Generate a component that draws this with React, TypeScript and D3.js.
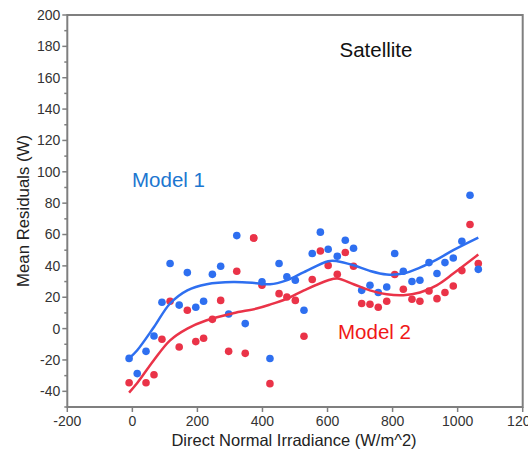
import React from "react";
import * as d3 from "d3";

const xBins = [-10, 15, 42, 66.5, 91, 116, 144, 169, 195, 219, 246, 271.5, 296, 321, 347, 373, 398.5, 423, 451, 475, 501, 527.6, 553, 578, 602, 630, 654.6, 680, 705, 730.5, 756, 782, 806.5, 833, 859.6, 884, 912, 936.5, 961, 986.6, 1013, 1038, 1063.5];
const model1 = [-19, -28.7, -14.5, -4.7, 16.8, 41.5, 15, 35.7, 13.6, 17.4, 34.6, 39.8, 9.3, 59.3, 3.2, 57.5, 29.8, -19.1, 41.5, 33, 30.8, 11.7, 47.9, 61.5, 50.6, 46.1, 56.3, 51.2, 24.4, 27.6, 23, 26.5, 47.9, 36.6, 30, 30.8, 42.1, 35.1, 42.1, 45, 55.7, 85, 37.8];
const model2 = [-34.5, -34.5, -34.5, -29.4, -6.8, 17.4, -11.7, 11.7, -8.3, -6.2, 5.9, 18, -14.5, 36.6, -15.8, 57.8, 27.6, -35.1, 22.3, 20.2, 18, -4.9, 31.3, 49.5, 40.2, 34.6, 48.5, 39.8, 16, 15.5, 13.6, 17.4, 34.5, 25.1, 18.7, 17.4, 24, 19.1, 23, 27.2, 37, 66.4, 41.5];
const fitX = [-10, 15, 66.5, 116, 169, 228.5, 310, 382, 423, 474, 527.6, 602, 630, 680, 730, 782, 833, 884, 935.5, 986.6, 1063.5];
const fit1 = [-19, -13.8, 1, 16, 24.4, 28.3, 29.7, 29, 28.3, 30.8, 36, 43, 43, 40.4, 36.8, 34.5, 35.1, 38.9, 44, 50, 58];
const fit2 = [-40.8, -34.7, -20, -7.5, 0, 5.3, 9.8, 12.8, 15.3, 19, 24.4, 30.8, 31.9, 28.3, 24.4, 21.9, 21.3, 23, 27.6, 35.1, 47.2];
const xTicks = [-200, 0, 200, 400, 600, 800, 1000, 1200];
const yTicks = [-40, -20, 0, 20, 40, 60, 80, 100, 120, 140, 160, 180, 200];

const W = 528, H = 455;
const L = 67.3, R = 522.7, T = 15, B = 407;

export default function App() {
  const x = d3.scaleLinear().domain([-200, 1200]).range([L, R]);
  const y = d3.scaleLinear().domain([-50, 200]).range([B, T]);
  const line = d3.line<[number, number]>().x(d => x(d[0])).y(d => y(d[1])).curve(d3.curveCatmullRom.alpha(0.5));
  const minorY = d3.range(-50, 201, 10).filter(v => v % 20 !== 0);
  const font = "Liberation Sans, Arial, sans-serif";
  const axisCol = "#7f7f7f";
  const blue = "#2e6ff0";
  const red = "#ea3348";
  const redIdx = model2.map((v, i) => i).filter(i => i !== 1);
  return (
    <svg width={W} height={H} style={{ position: "absolute", left: 0, top: 0 }} fontFamily={font}>
      <rect x={0} y={0} width={W} height={H} fill="#fff" />
      <rect x={L} y={T} width={R - L} height={B - T} fill="none" stroke={axisCol} strokeWidth={2} />
      {yTicks.map(t => (
        <g key={"y" + t}>
          <line x1={L - 5} x2={L} y1={y(t)} y2={y(t)} stroke={axisCol} strokeWidth={1.5} />
          <text x={L - 7} y={y(t)} dy="0.35em" textAnchor="end" fontSize={14} fill="#333">{t}</text>
        </g>
      ))}
      {minorY.map(t => (
        <line key={"m" + t} x1={L - 3} x2={L} y1={y(t)} y2={y(t)} stroke={axisCol} strokeWidth={1.5} />
      ))}
      {xTicks.map(t => (
        <g key={"x" + t}>
          <line x1={x(t)} x2={x(t)} y1={B} y2={B + 5} stroke={axisCol} strokeWidth={1.5} />
          <text x={x(t)} y={B + 19} textAnchor="middle" fontSize={14} fill="#333">{t}</text>
        </g>
      ))}
      <text x={294} y={446} textAnchor="middle" fontSize={16.5} fill="#222">Direct Normal Irradiance (W/m^2)</text>
      <text transform={`translate(29,${(T + B) / 2}) rotate(-90)`} textAnchor="middle" fontSize={16.8} fill="#222">Mean Residuals (W)</text>
      {redIdx.map(i => (
        <circle key={"r" + i} cx={x(xBins[i])} cy={y(model2[i])} r={3.8} fill={red} />
      ))}
      {model1.map((v, i) => (
        i === 15 ? null : <circle key={"b" + i} cx={x(xBins[i])} cy={y(v)} r={3.8} fill={blue} />
      ))}
      <circle cx={x(xBins[15])} cy={y(model2[15])} r={3.8} fill={red} />
      <path d={line(fitX.map((v, i) => [v, fit1[i]] as [number, number])) || ""} fill="none" stroke={blue} strokeWidth={2.5} />
      <path d={line(fitX.map((v, i) => [v, fit2[i]] as [number, number])) || ""} fill="none" stroke={red} strokeWidth={2.5} />
      <text x={376} y={57} textAnchor="middle" fontSize={20.5} fill="#111">Satellite</text>
      <text x={132} y={187} fontSize={20.5} fill="#1c76d0">Model 1</text>
      <text x={338} y={339} fontSize={20.5} fill="#f01818">Model 2</text>
    </svg>
  );
}
